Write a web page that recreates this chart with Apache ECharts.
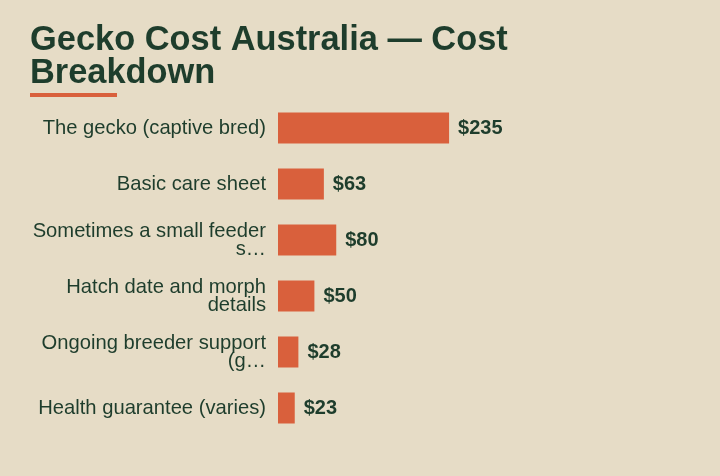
<!DOCTYPE html>
<html>
	<head>
		<meta charset="UTF-8">
		<title>Gecko Cost Australia</title>
		<script src="https://cdn.jsdelivr.net/npm/echarts@6/dist/echarts.min.js"></script>
		<style>
			html, body {
				margin: 0px;
				padding: 0px;
				height: 100%;
				width: 100%;
				overflow: hidden;
				background: #e6dcc6;
			}
			#main {
				height: 100%;
				width: 100%;
			}
		</style>
	</head>
	<body>
		<div id="main"></div>
		<script>
			// tick labels as they appear (already wrapped / cut)
			var categories = [
				'The gecko (captive bred)',
				'Basic care sheet',
				'Sometimes a small feeder\ns\u2026',
				'Hatch date and morph\ndetails',
				'Ongoing breeder support\n(g\u2026',
				'Health guarantee (varies)'
			];
			var costs = [235, 63, 80, 50, 28, 23];

			var green = '#1e3d2c';
			var orange = '#d9603c';
			var font = '"Liberation Sans", Arial, sans-serif';

			var chart = echarts.init(document.getElementById('main'));
			var option = {
				backgroundColor: '#e6dcc6',
				textStyle: { fontFamily: font },
				title: {
					text: 'Gecko Cost Australia \u2014 Cost\nBreakdown',
					left: 30,
					top: 24,
					padding: 0,
					textStyle: {
						color: green,
						fontSize: 34.4,
						fontWeight: 'bold',
						lineHeight: 33,
						fontFamily: font
					}
				},
				graphic: [{
					type: 'rect',
					left: 30,
					top: 93,
					shape: { width: 87, height: 4 },
					style: { fill: orange }
				}],
				grid: {
					left: 278,
					top: 100,
					width: 182,
					height: 336
				},
				xAxis: {
					type: 'value',
					min: 0,
					max: 250,
					show: false
				},
				yAxis: {
					type: 'category',
					inverse: true,
					data: categories,
					axisLine: { show: false },
					axisTick: { show: false },
					axisLabel: {
						margin: 12,
						color: green,
						fontSize: 20.2,
						lineHeight: 18,
						align: 'right'
					}
				},
				series: [{
					type: 'bar',
					data: costs,
					barWidth: 31,
					itemStyle: { color: orange },
					label: {
						show: true,
						position: 'right',
						distance: 9,
						color: green,
						fontSize: 20,
						fontWeight: 'bold',
						formatter: function (p) { return '$' + p.value; }
					}
				}]
			};
			chart.setOption(option);
			window.onresize = function () {
				chart.resize();
			};
		</script>
	</body>
</html>
